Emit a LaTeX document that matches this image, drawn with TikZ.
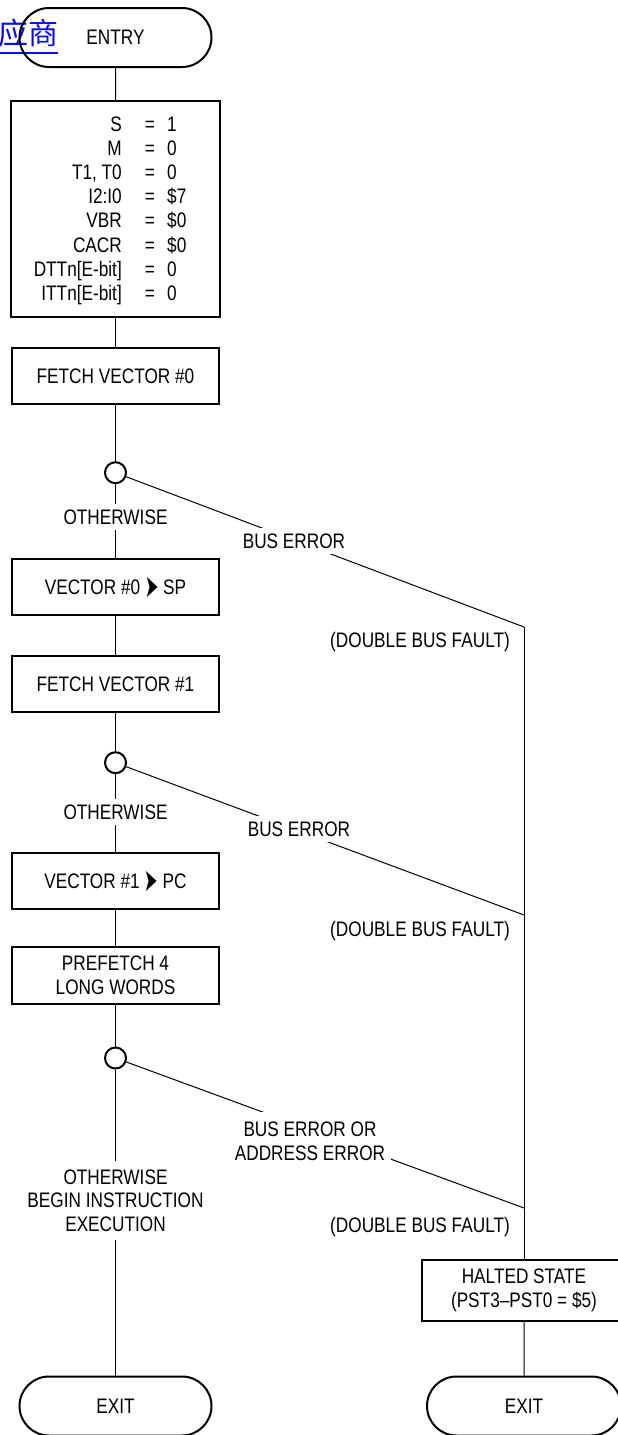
\documentclass[tikz,border=0pt]{standalone}
\usepackage{fontspec}
\setmainfont{Liberation Sans}[FakeStretch=0.82]
\newfontfamily\cjkfont{Noto Sans CJK SC}
\newfontfamily\symfont{DejaVu Sans}[FakeStretch=0.5]
\newcommand{\vecarrow}{\raisebox{-2.5pt}{\symfont\fontsize{32}{32}\selectfont ➤}}
\usetikzlibrary{shapes.misc}
\definecolor{linkblue}{RGB}{10,10,240}
\begin{document}
\begin{tikzpicture}[x=1pt,y=-1pt,
  font=\fontsize{21}{23.5}\selectfont,
  box/.style={draw, line width=2pt, minimum width=207pt, minimum height=56pt, inner sep=0pt, align=center},
  sbox/.style={box, text height=15.2pt, text depth=0pt},
  term/.style={draw, line width=2pt, rounded rectangle, minimum width=192pt, minimum height=59pt, inner sep=0pt},
  dec/.style={draw, circle, line width=2pt, minimum size=21pt, inner sep=0pt},
  conn/.style={line width=1pt},
  lab/.style={fill=white, inner xsep=6pt, inner ysep=6pt, align=center},
  fault/.style={anchor=base east, inner sep=0pt},
  rowtxt/.style={inner sep=0pt}]
\clip (0,0) rectangle (618,1435);
% blue link text
\node[text=linkblue, font=\cjkfont\fontsize{30}{30}\selectfont, anchor=base east, inner sep=0pt] (cjk) at (59,44) {应商};
\draw[linkblue, line width=1.8pt] (0,53) -- (58,53);
% main column
\node[term] (entry) at (115.5,37.5) {ENTRY};
\node[box, minimum width=209pt, minimum height=216pt] (reg) at (115.5,209) {};
\foreach \l/\v [count=\i from 0] in {S/1,M/0,{T1, T0}/0,I2:I0/\$7,VBR/\$0,CACR/\$0,{DTTn[E-bit]}/0,{ITTn[E-bit]}/0} {
  \node[rowtxt, anchor=base east] (rl\i) at (122,{131.5+24.1*\i}) {\l};
  \node[rowtxt, anchor=base] (re\i) at (150,{131.5+24.1*\i}) {=};
  \node[rowtxt, anchor=base west] (rv\i) at (167,{131.5+24.1*\i}) {\v};
}
\node[sbox] (f0) at (115.5,376) {FETCH VECTOR \#0};
\node[dec] (c1) at (115.5,472.7) {};
\node[sbox] (v0) at (115.5,587) {VECTOR \#0 \vecarrow{} SP};
\node[sbox] (f1) at (115.5,684) {FETCH VECTOR \#1};
\node[dec] (c2) at (115.5,762.7) {};
\node[sbox] (v1) at (115.5,881) {VECTOR \#1 \vecarrow{} PC};
\node[box, minimum height=57pt] (pf) at (115.5,975.5) {PREFETCH 4\\LONG WORDS};
\node[dec] (c3) at (115.5,1058) {};
\node[term] (exitl) at (115.5,1406) {EXIT};
% right column
\node[box, minimum width=204pt, minimum height=61pt] (halt) at (524,1290.5) {HALTED STATE\\(PST3–PST0 = \$5)};
\node[term, minimum width=194pt] (exitr) at (524,1406) {EXIT};
\coordinate (k1) at (524,627);
\coordinate (k2) at (524,915);
\coordinate (k3) at (524,1208);
% connectors
\draw[conn] (entry) -- (reg);
\draw[conn] (reg) -- (f0);
\draw[conn] (f0) -- (c1);
\draw[conn] (c1) -- (v0);
\draw[conn] (v0) -- (f1);
\draw[conn] (f1) -- (c2);
\draw[conn] (c2) -- (v1);
\draw[conn] (v1) -- (pf);
\draw[conn] (pf) -- (c3);
\draw[conn] (c3) -- (exitl);
\draw[conn] (c1) -- (k1);
\draw[conn] (c2) -- (k2);
\draw[conn] (c3) -- (k3);
\draw[conn] (k1) -- (halt);
\draw[conn] (halt) -- (exitr);
% labels
\node[lab] (ow1) at (115.5,517) {OTHERWISE};
\node[lab] (ow2) at (115.5,812) {OTHERWISE};
\node[lab, inner ysep=9pt] (ow3) at (115.5,1200.5) {OTHERWISE\\BEGIN INSTRUCTION\\EXECUTION};
\node[lab] (be1) at (294,541) {BUS ERROR};
\node[lab] (be2) at (299,829) {BUS ERROR};
\node[lab, inner ysep=10pt] (be3) at (310,1141.5) {BUS ERROR OR\\ADDRESS ERROR};
\node[fault] (d1) at (510,647.5) {(DOUBLE BUS FAULT)};
\node[fault] (d2) at (510,936.5) {(DOUBLE BUS FAULT)};
\node[fault] (d3) at (510,1232.5) {(DOUBLE BUS FAULT)};
\end{tikzpicture}
\end{document}
